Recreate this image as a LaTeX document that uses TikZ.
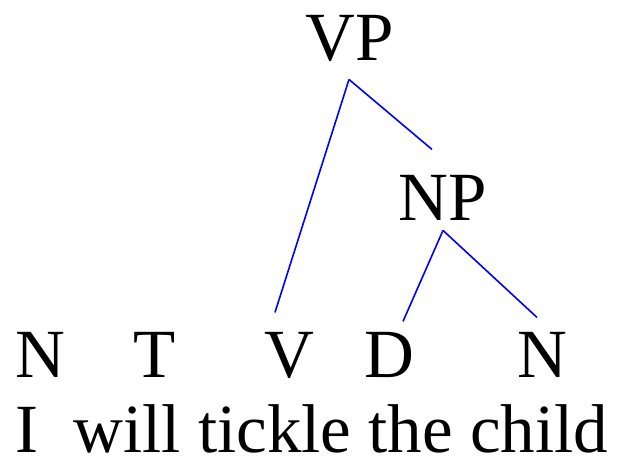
\documentclass[tikz,border=0pt]{standalone}
\usepackage{fontspec}
\setmainfont{Liberation Serif}
\begin{document}
\begin{tikzpicture}[x=0.5pt,y=-0.5pt,
    cat/.style={anchor=base, inner sep=0pt, font=\fontsize{34.5}{40}\selectfont},
    branch/.style={blue, line width=0.8pt}]
  \useasboundingbox (0,0) rectangle (618,463);
  % categories
  \node[cat] (vp) at (350,60)  {VP};
  \node[cat] (np) at (443,220) {NP};
  \node[cat] (n1) at (40,377)  {N};
  \node[cat] (t)  at (155,377) {T};
  \node[cat] (v)  at (289,377) {V};
  \node[cat] (d)  at (389,377) {D};
  \node[cat] (n2) at (542,377) {N};
  % words
  \node[cat] (words) at (312,452) {I\ \ will tickle the child};
  % branches
  \draw[branch] ([xshift=-0.5pt,yshift=-9pt]vp.south) -- ([xshift=-7pt,yshift=9.5pt]v.north);
  \draw[branch] ([xshift=-0.5pt,yshift=-9pt]vp.south) -- ([xshift=-5.5pt,yshift=12.5pt]np.north);
  \draw[branch] ([yshift=-5pt]np.south) -- ([xshift=7pt,yshift=5pt]d.north);
  \draw[branch] ([yshift=-5pt]np.south) -- ([xshift=-2.5pt,yshift=7pt]n2.north);
\end{tikzpicture}
\end{document}
